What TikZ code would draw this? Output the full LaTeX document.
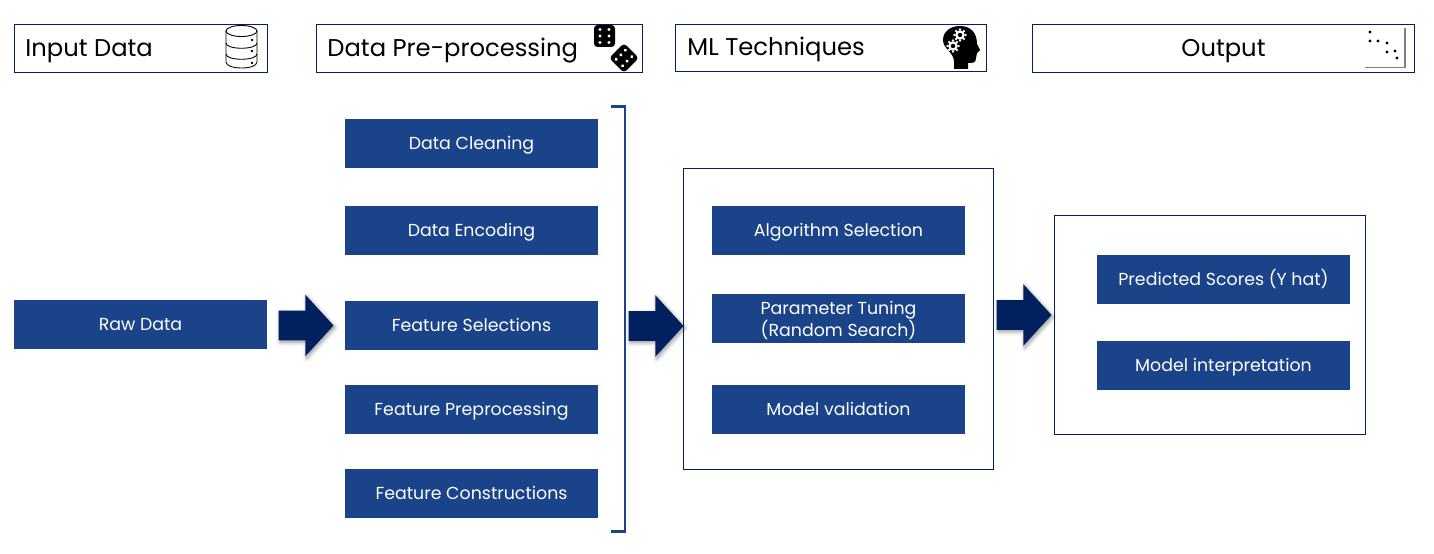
\documentclass[tikz,border=0pt]{standalone}
\usepackage{fontspec}
\setmainfont{Poppins}
\usetikzlibrary{arrows.meta,shapes.arrows,shadows.blur}
\definecolor{stepblue}{RGB}{26,67,137}
\definecolor{navy}{RGB}{0,32,96}
\tikzset{
  stepbox/.style={fill=stepblue,text=white,minimum width=5.06cm,minimum height=0.98cm,inner sep=0pt,align=center,text height=3mm,text depth=0.6mm,font=\fontsize{9.9}{12.6}\selectfont},
  headbox/.style={draw=navy,line width=0.5pt,minimum height=0.97cm,inner sep=0pt,text=black,text height=4mm,text depth=0.6mm,font=\fontsize{13.8}{15}\selectfont},
  framebox/.style={draw=navy,line width=0.5pt,minimum width=#1,inner sep=0pt},
  bigarrow/.style={single arrow,anchor=tip,fill=navy,inner sep=0pt,text height=0.58cm,text depth=0cm,minimum height=1.1cm,single arrow head extend=0.32cm,single arrow tip angle=95,blur shadow={shadow xshift=0.03cm,shadow yshift=-0.04cm,shadow blur steps=6}},
  icondot/.style={fill=black,draw=none}
}
\begin{document}
\begin{tikzpicture}[x=0.02cm,y=-0.02cm]
	\useasboundingbox (0,0) rectangle (1434,554);
	% header row
	\node [headbox,minimum width=5.06cm](h_input) at (141,48.5) {};
	\node [headbox,minimum width=6.52cm](h_prep) at (479,48.5) {};
	\node [headbox,minimum width=6.22cm,minimum height=0.95cm](h_ml) at (831,48) {};
	\node [headbox,minimum width=7.64cm](h_out) at (1223.5,48.5) {Output};
	\node [headbox,draw=none,anchor=west](t_input) at (25,48.5) {Input Data};
	\node [headbox,draw=none,anchor=west](t_prep) at (327,48.5) {Data Pre-processing};
	\node [headbox,draw=none,anchor=west](t_ml) at (687,47.5) {ML Techniques};
	% frames
	\node [framebox=6.2cm,minimum height=6.02cm](f_ml) at (838.5,319) {};
	\node [framebox=6.22cm,minimum height=4.38cm](f_out) at (1210,325) {};
	% boxes
	\node [stepbox](raw) at (140.5,324.5) {Raw Data};
	\node [stepbox](clean) at (471.5,143.5) {Data Cleaning};
	\node [stepbox](encode) at (471.5,230.5) {Data Encoding};
	\node [stepbox](select) at (471.5,325.5) {Feature Selections};
	\node [stepbox](preproc) at (471.5,409.5) {Feature Preprocessing};
	\node [stepbox](construct) at (471.5,493.5) {Feature Constructions};
	\node [stepbox](algo) at (838.5,230.5) {Algorithm Selection};
	\node [stepbox,text height=,text depth=](tune) at (838.5,318.5) {\rule{0pt}{9.5pt}Parameter Tuning\\(Random Search)};
	\node [stepbox](valid) at (838.5,409.5) {Model validation};
	\node [stepbox](score) at (1223.5,279.5) {Predicted Scores (Y hat)};
	\node [stepbox](interp) at (1223.5,365.5) {Model interpretation};
	% block arrows
	\node [bigarrow](a1) at (334,325.5) {};
	\node [bigarrow](a2) at (684,326) {};
	\node [bigarrow](a3) at (1052,315) {};
	% bracket
	\draw [stepblue,line width=1.7pt] (611,106.5) -- (625,106.5) -- (625,531.5) -- (611,531.5);
	% database icon
	\draw [black,line width=0.5pt] (226,31) -- (226,62) .. controls (226,70) and (257,70) .. (257,62) -- (257,31);
	\draw [black,line width=0.5pt] (241.5,31) ellipse (15.5 and 5.5);
	\draw [black,line width=0.5pt] (226,43) .. controls (226,50) and (257,50) .. (257,43);
	\draw [black,line width=0.5pt] (226,54) .. controls (226,61) and (257,61) .. (257,54);
	\foreach \y in {40,51,63} \fill [icondot] (252,\y) circle (1.3);
	% dice icon
	\fill [black,rounded corners=2pt] (594,25) rectangle (615,47);
	\foreach \x in {600,609} \foreach \y in {29.5,36,42.5} \fill [white] (\x,\y) circle (1.7);
	\begin{scope}[shift={(624,58)},rotate=-45]
		\fill [black,rounded corners=2pt] (-10.5,-10.5) rectangle (10.5,10.5);
		\foreach \x in {-4.5,4.5} \foreach \y in {-6.5,0,6.5} \fill [white] (\x,\y) circle (1.7);
	\end{scope}
	% head icon
	\fill [black] (954,69) -- (968,69) -- (968,63) .. controls (973,63) and (976,63) .. (976,58) -- (977,53) -- (980,50) -- (977,44) .. controls (977,32) and (970,26) .. (960,26) .. controls (950,26) and (943,32) .. (943,40) .. controls (943,49) and (954,52) .. (954,62) -- cycle;
	\foreach \cx/\cy in {960/35,953/46}{
		\fill [white] (\cx,\cy) circle (4.8);
		\foreach \a in {0,45,...,315} \fill [white] (\cx,\cy) ++(\a:5.6) circle (1.3);
		\fill [black] (\cx,\cy) circle (2.2);
	}
	% scatter icon
	\draw [gray,line width=1.1pt] (1405,28) -- (1405,67.5) -- (1365,67.5);
	\foreach \x/\y in {1370/32,1370/41,1378/41,1387/43,1387/52,1395/51,1397/58} \fill [icondot] (\x,\y) circle (1.7);
\end{tikzpicture}
\end{document}
